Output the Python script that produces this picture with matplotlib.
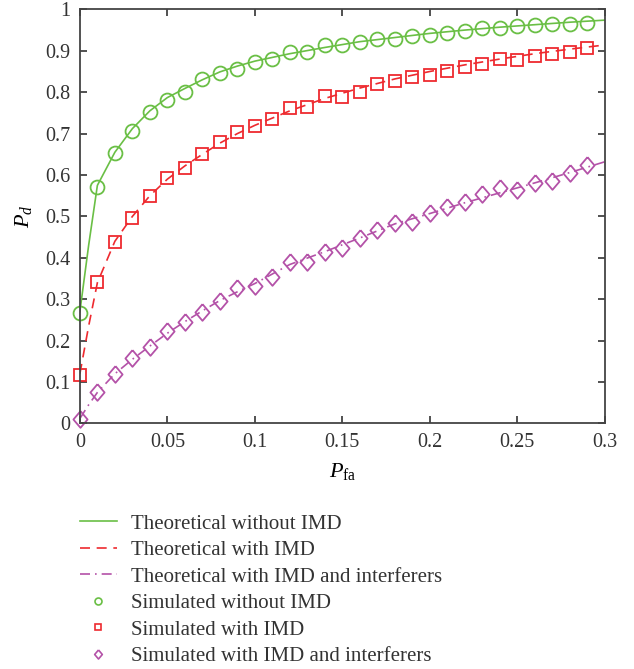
import matplotlib
matplotlib.use("Agg")
import matplotlib.pyplot as plt
from matplotlib.lines import Line2D

plt.rcParams['font.family'] = ['Liberation Serif', 'DejaVu Serif']
plt.rcParams['mathtext.fontset'] = 'custom'
plt.rcParams['mathtext.rm'] = 'Liberation Serif'
plt.rcParams['mathtext.it'] = 'Liberation Serif:italic'

# theoretical curves
pfa_theory = [0, 0.005, 0.01, 0.02, 0.03, 0.04, 0.05, 0.06, 0.07, 0.08, 0.09, 0.10,
              0.12, 0.14, 0.16, 0.18, 0.20, 0.22, 0.24, 0.26, 0.28, 0.30]
pd_no_imd = [0.27, 0.43, 0.575, 0.655, 0.712, 0.755, 0.787, 0.809, 0.830, 0.849, 0.863, 0.875,
             0.893, 0.908, 0.922, 0.932, 0.942, 0.950, 0.957, 0.963, 0.969, 0.974]
pd_imd = [0.12, 0.235, 0.34, 0.44, 0.50, 0.55, 0.59, 0.622, 0.65, 0.677, 0.70, 0.72,
          0.755, 0.785, 0.81, 0.832, 0.85, 0.866, 0.880, 0.893, 0.904, 0.914]
pd_imd_int = [0.012, 0.045, 0.075, 0.12, 0.155, 0.187, 0.218, 0.246, 0.272, 0.297, 0.318, 0.338,
              0.384, 0.415, 0.448, 0.482, 0.507, 0.533, 0.557, 0.581, 0.606, 0.632]

# simulated points
pfa_sim = [i / 100 for i in range(30)]
sim_no_imd = [0.267, 0.572, 0.654, 0.707, 0.753, 0.782, 0.801, 0.831, 0.847, 0.856,
              0.872, 0.879, 0.896, 0.896, 0.915, 0.915, 0.920, 0.928, 0.928, 0.935,
              0.937, 0.944, 0.948, 0.955, 0.955, 0.959, 0.962, 0.964, 0.964, 0.967]
sim_imd = [0.118, 0.342, 0.439, 0.496, 0.549, 0.593, 0.616, 0.650, 0.680, 0.703,
           0.718, 0.736, 0.762, 0.765, 0.791, 0.789, 0.800, 0.820, 0.826, 0.836,
           0.841, 0.851, 0.861, 0.867, 0.879, 0.877, 0.887, 0.892, 0.897, 0.906]
sim_imd_int = [0.012, 0.075, 0.119, 0.158, 0.185, 0.223, 0.244, 0.270, 0.296, 0.326,
               0.332, 0.354, 0.390, 0.391, 0.413, 0.423, 0.448, 0.467, 0.485, 0.486,
               0.508, 0.523, 0.536, 0.553, 0.568, 0.565, 0.581, 0.586, 0.604, 0.624]

green = '#6abf45'
red = '#ee2a2f'
purple = '#b452a8'
diamond = [(0, 1), (0.85, 0), (0, -1), (-0.85, 0), (0, 1)]

fig = plt.figure(figsize=(6.34, 6.69), dpi=100)
ax = fig.add_axes([0.126, 0.367, 0.828, 0.619])

ax.plot(pfa_theory, pd_no_imd, color=green, lw=1.2)
ax.plot(pfa_theory, pd_imd, color=red, lw=1.2, dashes=(6, 4))
ax.plot(pfa_theory, pd_imd_int, color=purple, lw=1.2, dashes=(6, 3, 1, 3))
ax.plot(pfa_sim, sim_no_imd, 'o', mfc='none', mec=green, ms=10, mew=1.3, clip_on=False)
ax.plot(pfa_sim, sim_imd, 's', mfc='none', mec=red, ms=8, mew=1.3, clip_on=False)
ax.plot(pfa_sim, sim_imd_int, ls='none', marker=diamond, mfc='none', mec=purple,
        ms=12, mew=1.3, clip_on=False)

ax.set_xlim(0, 0.3)
ax.set_ylim(0, 1)
ax.set_xticks([0, 0.05, 0.1, 0.15, 0.2, 0.25, 0.3])
ax.set_xticklabels(['0', '0.05', '0.1', '0.15', '0.2', '0.25', '0.3'])
ax.set_yticks([i / 10 for i in range(11)])
ax.set_yticklabels(['0', '0.1', '0.2', '0.3', '0.4', '0.5', '0.6', '0.7', '0.8', '0.9', '1'])
ax.tick_params(direction='in', top=True, right=True, length=5, width=1.2,
               labelsize=14.5, colors='#333333', pad=7)
for s in ax.spines.values():
    s.set_color('#444444')
    s.set_linewidth(1.3)

ax.set_xlabel(r'$P_{\mathrm{fa}}$', fontsize=16, labelpad=6)
ax.set_ylabel(r'$P_d$', fontsize=16, labelpad=8)

handles = [
    Line2D([], [], color=green, lw=1.2),
    Line2D([], [], color=red, lw=1.2, dashes=(6, 4)),
    Line2D([], [], color=purple, lw=1.2, dashes=(6, 3, 1, 3)),
    Line2D([], [], ls='none', marker='o', mfc='none', mec=green, ms=5, mew=1.2),
    Line2D([], [], ls='none', marker='s', mfc='none', mec=red, ms=4.5, mew=1.2),
    Line2D([], [], ls='none', marker=diamond, mfc='none', mec=purple, ms=6.5, mew=1.2),
]
labels = ['Theoretical without IMD', 'Theoretical with IMD',
          'Theoretical with IMD and interferers', 'Simulated without IMD',
          'Simulated with IMD', 'Simulated with IMD and interferers']
fig.legend(handles, labels, loc='upper left', bbox_to_anchor=(0.11, 0.247),
           frameon=False, fontsize=15, handlelength=1.75, handletextpad=0.7,
           labelspacing=0.33, borderpad=0, labelcolor='#333333')

fig.savefig('out.png', dpi=100)
